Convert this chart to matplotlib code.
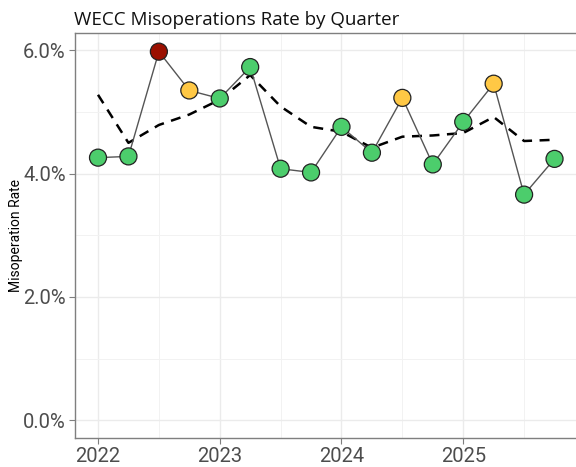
import matplotlib
matplotlib.use("Agg")
import matplotlib.pyplot as plt
from matplotlib.ticker import FuncFormatter, MultipleLocator

quarters = [2022.0, 2022.25, 2022.5, 2022.75, 2023.0, 2023.25, 2023.5, 2023.75,
            2024.0, 2024.25, 2024.5, 2024.75, 2025.0, 2025.25, 2025.5, 2025.75]
rate = [4.26, 4.28, 5.98, 5.35, 5.22, 5.73, 4.08, 4.02,
        4.76, 4.34, 5.23, 4.15, 4.84, 5.46, 3.66, 4.24]
trend = [5.28, 4.50, 4.79, 4.96, 5.20, 5.60, 5.09, 4.76,
         4.68, 4.42, 4.60, 4.62, 4.66, 4.92, 4.53, 4.55]
status = ["green", "green", "red", "yellow", "green", "green", "green", "green",
          "green", "green", "yellow", "green", "green", "yellow", "green", "green"]
palette = {"green": "#4ccd6c", "yellow": "#ffc845", "red": "#9b1000"}
year_ticks = [2022, 2023, 2024, 2025]
pct_ticks = [0, 2, 4, 6]

fig = plt.figure(figsize=(5.76, 4.67), dpi=100)
ax = fig.add_axes([0.130, 0.062, 0.875, 0.867])

ax.plot(quarters, trend, color="black", lw=1.8, ls=(0, (4, 3)), zorder=3)
ax.plot(quarters, rate, color="#555555", lw=1.0, zorder=4)
ax.scatter(quarters, rate, c=[palette[s] for s in status], s=150,
           edgecolors="#222222", linewidths=0.9, zorder=5)

ax.set_xlim(2021.81, 2025.95)
ax.set_ylim(-0.29, 6.28)
ax.set_xticks(year_ticks)
ax.set_xticklabels([str(y) for y in year_ticks])
ax.set_yticks(pct_ticks)
ax.yaxis.set_major_formatter(FuncFormatter(lambda v, p: f"{v:.1f}%"))
ax.xaxis.set_minor_locator(MultipleLocator(0.5))
ax.yaxis.set_minor_locator(MultipleLocator(1))
ax.grid(which="major", color="#ebebeb", lw=1.0)
ax.grid(which="minor", color="#f2f2f2", lw=0.7)
ax.set_axisbelow(True)
ax.tick_params(which="major", labelsize=14.5, colors="#7f7f7f", length=4,
               labelcolor="#4d4d4d", width=0.8, pad=2.5)
ax.tick_params(which="minor", length=0)
for lab in ax.get_xticklabels() + ax.get_yticklabels():
    lab.set_fontfamily("Roboto")
for s in ["left", "top", "bottom"]:
    ax.spines[s].set_color("#7f7f7f")
    ax.spines[s].set_linewidth(1.0)
ax.spines["right"].set_visible(False)

ax.set_ylabel("Misoperation Rate", fontsize=10, color="black", family="Roboto")
ax.yaxis.set_label_coords(-0.103, 0.5)
fig.text(0.128, 1 - 25 / 467, "WECC Misoperations Rate by Quarter", fontsize=13.5,
         color="#111111", ha="left", va="baseline", family="Open Sans")

fig.savefig("out.png", dpi=100)
